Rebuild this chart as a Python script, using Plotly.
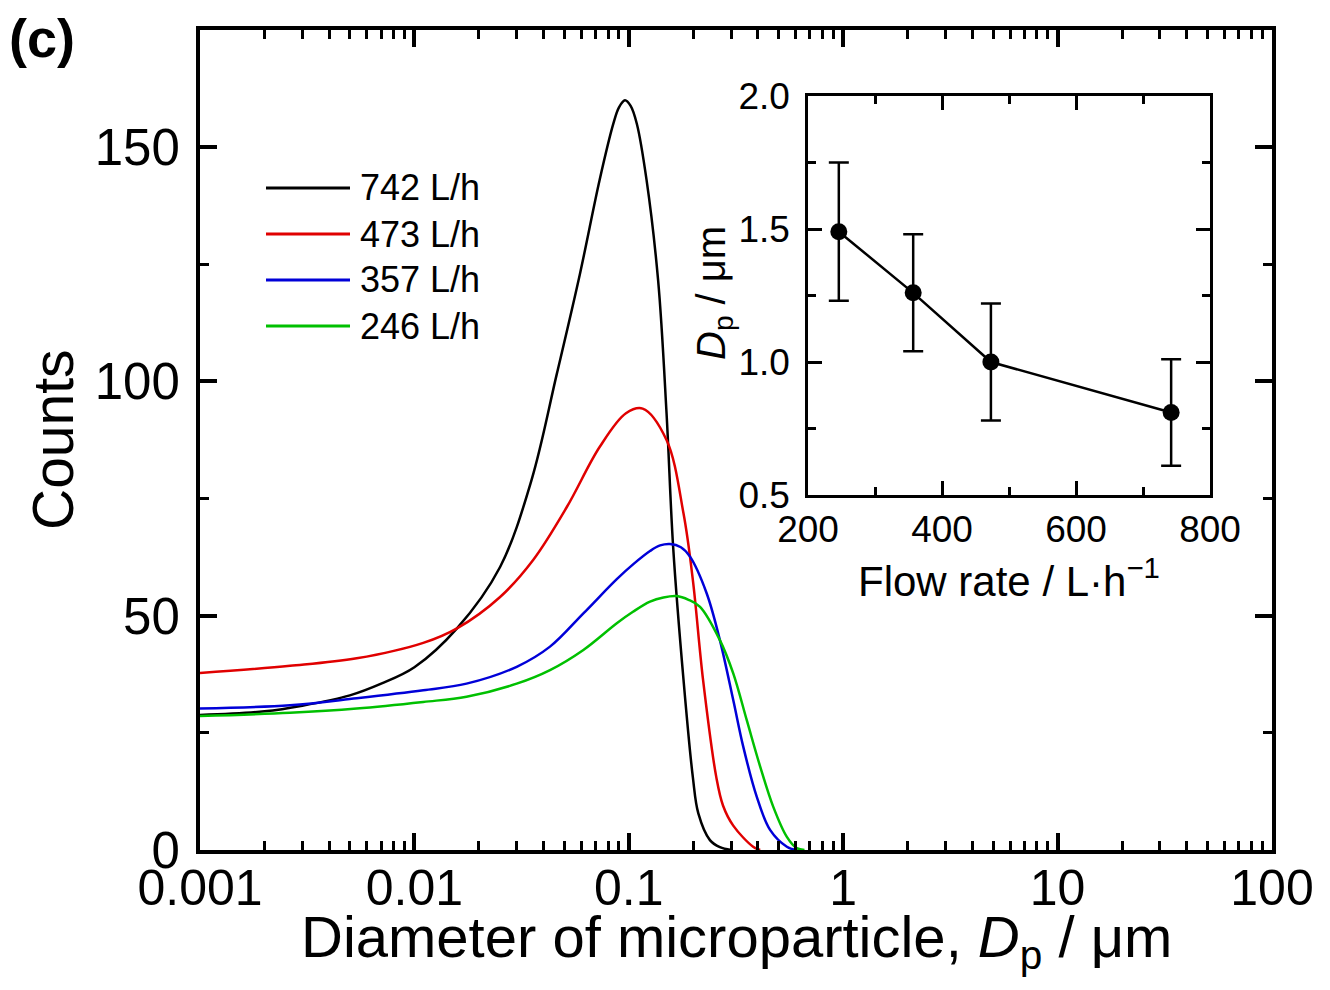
import plotly.graph_objects as go

# ---------------- data ----------------
series_names = ["742 L/h", "473 L/h", "357 L/h", "246 L/h"]
series_colors = ["#000000", "#e00000", "#0000d8", "#00c000"]

x_742 = [0.001, 0.002, 0.003, 0.005, 0.007, 0.01, 0.0158, 0.0251, 0.0352,
         0.0461, 0.0592, 0.0731, 0.0847, 0.090, 0.096, 0.102, 0.109, 0.121, 0.137, 0.150,
         0.161, 0.180, 0.199, 0.211, 0.239, 0.266, 0.30]
y_742 = [28.8, 29.6, 30.8, 33.0, 35.5, 39.0, 47.3, 60.4, 79.0,
         101.5, 123.0, 143.0, 155.0, 158.5, 160.0, 158.8, 155.0, 143.0, 121.6, 93.2,
         64.7, 36.3, 15.5, 7.8, 2.1, 0.6, 0.0]

x_473 = [0.001, 0.00263, 0.00538, 0.011, 0.0158, 0.0251, 0.0358, 0.0514,
         0.0731, 0.097, 0.116, 0.150, 0.180, 0.199, 0.222, 0.256, 0.275, 0.307, 0.380, 0.41]
y_473 = [37.8, 39.3, 40.9, 44.2, 47.3, 54.0, 61.9, 73.2,
         86.0, 93.2, 94.2, 87.5, 71.8, 57.6, 36.3, 15.5, 9.5, 5.2, 0.7, 0.0]

x_357 = [0.001, 0.00263, 0.00538, 0.011, 0.0175, 0.030, 0.0429, 0.0614, 0.0879, 0.105,
         0.1256, 0.140, 0.1557, 0.175, 0.193, 0.2307, 0.266, 0.307, 0.342, 0.395, 0.456,
         0.546, 0.60]
y_357 = [30.2, 30.9, 32.4, 34.1, 35.5, 39.1, 43.4, 50.5, 57.8, 61.0,
         63.8, 65.0, 65.3, 64.6, 62.6, 54.8, 44.8, 32.0, 22.0, 11.4, 4.3,
         0.7, 0.0]

x_246 = [0.001, 0.00263, 0.00538, 0.011, 0.0175, 0.030, 0.0429, 0.0614, 0.0879, 0.105,
         0.1256, 0.145, 0.167, 0.190, 0.215, 0.266, 0.307, 0.355, 0.41, 0.472, 0.546,
         0.607, 0.66]
y_246 = [28.6, 29.3, 30.2, 31.6, 32.7, 35.5, 38.4, 42.7, 48.4, 50.9,
         53.0, 53.9, 54.2, 53.4, 51.9, 44.8, 37.7, 27.7, 17.8, 9.2, 2.8,
         0.4, 0.0]

# inset data
flow_rate = [246, 357, 473, 742]
dp_mean = [1.49, 1.26, 1.00, 0.81]
dp_err = [0.26, 0.22, 0.22, 0.20]

main_xtick_vals = [0.001, 0.01, 0.1, 1, 10, 100]
main_xtick_text = ["0.001", "0.01", "0.1", "1", "10", "100"]
main_ytick_vals = [0, 50, 100, 150]
inset_xtick_vals = [200, 400, 600, 800]
inset_ytick_vals = [0.5, 1.0, 1.5, 2.0]
inset_ytick_text = ["0.5", "1.0", "1.5", "2.0"]

# ---------------- figure ----------------
OFF = 8  # default page margin of the html body
W, H = 1330 - 2 * OFF, 990 - 2 * OFF
FONT = "Arial, Liberation Sans, Helvetica, sans-serif"


def px(x):
    return (x - OFF) / W


def py(y):
    return 1 - (y - OFF) / H


fig = go.Figure()

xs = [x_742, x_473, x_357, x_246]
ys = [y_742, y_473, y_357, y_246]
for name, col, xv, yv in zip(series_names, series_colors, xs, ys):
    fig.add_trace(go.Scatter(x=xv, y=yv, mode="lines", name=name,
                             line=dict(color=col, width=2.5, shape="spline", smoothing=1.0),
                             showlegend=False, xaxis="x", yaxis="y"))

fig.add_trace(go.Scatter(x=flow_rate, y=dp_mean, mode="lines+markers",
                         line=dict(color="black", width=2.5),
                         marker=dict(color="black", size=17),
                         error_y=dict(type="data", array=dp_err, visible=True,
                                      color="black", thickness=2.5, width=10),
                         showlegend=False, xaxis="x2", yaxis="y2"))

minor_x = []
for d in [0.001, 0.01, 0.1, 1, 10]:
    minor_x += [d * k for k in range(2, 10)]

fig.update_layout(
    width=W, height=H,
    margin=dict(l=0, r=0, t=0, b=0),
    paper_bgcolor="white", plot_bgcolor="rgba(0,0,0,0)",
    font=dict(family=FONT, color="black"),
    xaxis=dict(type="log", range=[-3, 2], domain=[px(200), px(1272)], anchor="y",
               automargin=False,
               tickvals=main_xtick_vals, ticktext=main_xtick_text,
               ticks="inside", ticklen=17, tickwidth=3.5, tickcolor="black",
               minor=dict(tickvals=minor_x, ticks="inside", ticklen=9, tickwidth=3,
                          tickcolor="black", showgrid=False),
               showline=True, linewidth=4, linecolor="black", mirror="allticks",
               showgrid=False, zeroline=False,
               tickfont=dict(size=50, family=FONT), ticklabelstandoff=-9),
    yaxis=dict(range=[0, 175], domain=[py(850), py(30)], anchor="x",
               automargin=False,
               tickvals=main_ytick_vals,
               ticks="inside", ticklen=17, tickwidth=3.5, tickcolor="black",
               minor=dict(tickvals=[25, 75, 125, 175], ticks="inside", ticklen=9, tickwidth=3,
                          tickcolor="black", showgrid=False),
               showline=True, linewidth=4, linecolor="black", mirror="allticks",
               showgrid=False, zeroline=False,
               tickfont=dict(size=51, family=FONT), ticklabelstandoff=6),
    xaxis2=dict(range=[200, 800], domain=[px(808), px(1210)], anchor="y2",
                automargin=False,
                tickvals=inset_xtick_vals,
                ticks="inside", ticklen=14, tickwidth=2.5, tickcolor="black",
                minor=dict(tickvals=[300, 500, 700], ticks="inside", ticklen=8, tickwidth=2.5,
                           tickcolor="black", showgrid=False),
                showline=True, linewidth=2.5, linecolor="black", mirror="allticks",
                showgrid=False, zeroline=False,
                tickfont=dict(size=37, family=FONT), ticklabelstandoff=0),
    yaxis2=dict(range=[0.5, 2.0], domain=[py(495), py(96)], anchor="x2",
                automargin=False,
                tickvals=inset_ytick_vals, ticktext=inset_ytick_text,
                ticks="inside", ticklen=14, tickwidth=2.5, tickcolor="black",
                minor=dict(tickvals=[0.75, 1.25, 1.75], ticks="inside", ticklen=8, tickwidth=2.5,
                           tickcolor="black", showgrid=False),
                showline=True, linewidth=2.5, linecolor="black", mirror="allticks",
                showgrid=False, zeroline=False,
                tickfont=dict(size=37, family=FONT), ticklabelstandoff=8),
)

annotations = [
    dict(x=px(42), y=py(38), text="<b>(c)</b>", font=dict(size=54, family=FONT),
         xanchor="center", yanchor="middle"),
    dict(x=px(736), y=py(941), text="Diameter of microparticle, <i>D</i><sub>p</sub> / μm",
         font=dict(size=58, family=FONT), xanchor="center", yanchor="middle"),
    dict(x=px(53), y=py(440), text="Counts", textangle=-90,
         font=dict(size=57, family=FONT), xanchor="center", yanchor="middle"),
    dict(x=px(1009), y=py(578), text="Flow rate / L·h<sup>−1</sup>",
         font=dict(size=42, family=FONT), xanchor="center", yanchor="middle"),
    dict(x=px(714), y=py(293), text="<i>D</i><sub>p</sub> / μm", textangle=-90,
         font=dict(size=40, family=FONT), xanchor="center", yanchor="middle"),
]

shapes = []
leg_y = [188, 234, 280, 326]
for name, col, yy in zip(series_names, series_colors, leg_y):
    shapes.append(dict(type="line", xref="paper", yref="paper",
                       x0=px(266), x1=px(350), y0=py(yy), y1=py(yy),
                       line=dict(color=col, width=3)))
    annotations.append(dict(x=px(358), y=py(yy), text=name, font=dict(size=36, family=FONT),
                            xanchor="left", yanchor="middle"))

for a in annotations:
    a.update(xref="paper", yref="paper", showarrow=False)

fig.update_layout(annotations=annotations, shapes=shapes)

fig.write_html("out.html")
